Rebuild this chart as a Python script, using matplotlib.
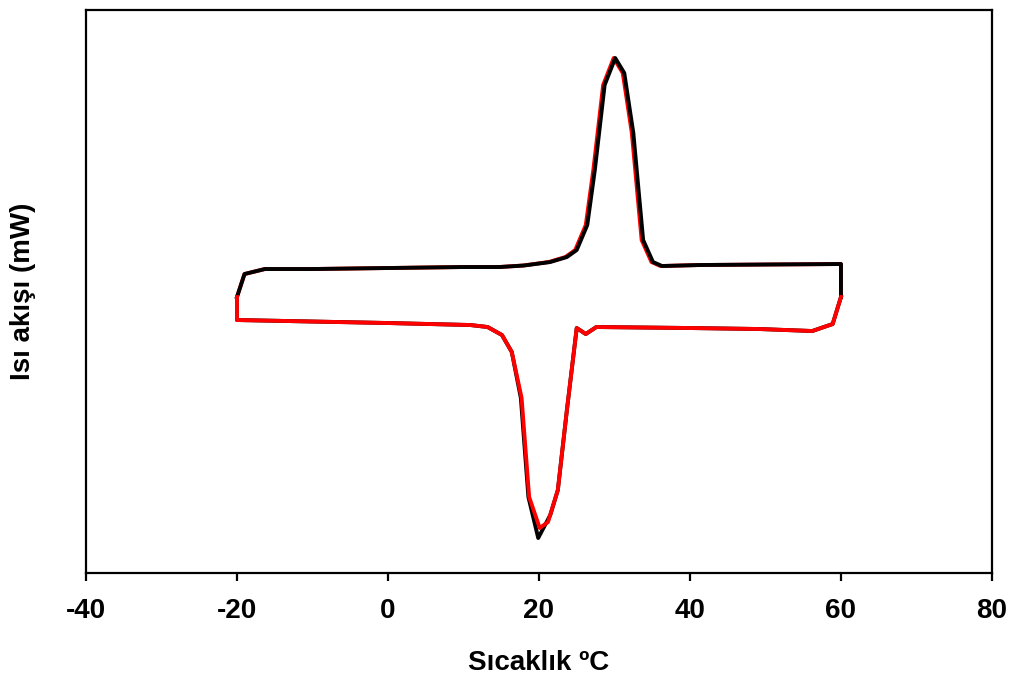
import matplotlib.pyplot as plt

# DSC eğrileri: ısıtma (üst) ve soğutma (alt) kolları, iki ölçüm
plt.rcParams['font.family'] = ['Liberation Sans', 'DejaVu Sans']
plt.rcParams['font.weight'] = 'bold'
plt.rcParams['axes.unicode_minus'] = False

# ısıtma kolu (sıcaklık, ısı akışı - keyfi birim)
heat_T = [-20.0, -19.0, -16.3, -10.0, 0.0, 10.0, 14.8, 18.0, 21.5, 23.7, 25.0, 26.4,
          27.4, 28.7, 30.1, 31.3, 32.5, 33.8, 35.1, 36.3, 41.3, 50.0, 60.0, 60.0]
heat_Q = [2.76, 2.99, 3.04, 3.04, 3.05, 3.06, 3.06, 3.075, 3.11, 3.16, 3.23, 3.48,
          4.03, 4.88, 5.15, 5.00, 4.40, 3.33, 3.11, 3.07, 3.08, 3.085, 3.09, 2.76]
heat_T_red = [-20.0, -19.0, -16.3, -10.0, 0.0, 10.0, 14.7, 17.9, 21.3, 23.5, 24.8, 26.2,
              27.2, 28.5, 29.9, 31.1, 32.3, 33.6, 34.9, 36.1, 41.3, 50.0, 60.0, 60.0]

# soğutma kolu
cool_T = [60.0, 58.9, 56.2, 49.2, 40.0, 27.6, 26.2, 25.0, 23.7, 22.5, 21.2, 20.1,
          18.7, 17.7, 16.4, 15.1, 13.2, 10.9, 0.0, -10.0, -20.0, -20.0]
cool_Q = [2.76, 2.49, 2.42, 2.44, 2.45, 2.46, 2.39, 2.45, 1.63, 0.83, 0.51, 0.45,
          0.76, 1.75, 2.21, 2.38, 2.46, 2.48, 2.50, 2.515, 2.53, 2.76]
cool_T_blk = [60.0, 58.9, 56.2, 49.2, 40.0, 27.6, 26.2, 25.0, 23.7, 22.5, 21.5, 19.9,
              18.6, 17.6, 16.4, 15.1, 13.2, 10.9, 0.0, -10.0, -20.0, -20.0]
cool_Q_blk = [2.76, 2.49, 2.42, 2.44, 2.45, 2.46, 2.39, 2.45, 1.63, 0.83, 0.58, 0.35,
              0.76, 1.75, 2.21, 2.38, 2.46, 2.48, 2.50, 2.515, 2.53, 2.76]

fig = plt.figure(figsize=(10.15, 6.82), dpi=100)
ax = fig.add_axes([0.0847, 0.1598, 0.8926, 0.8255])

ax.plot(heat_T_red, heat_Q, color='#ff0000', linewidth=2.8, zorder=2)
ax.plot(heat_T, heat_Q, color='black', linewidth=2.8, zorder=3)
ax.plot(cool_T_blk, cool_Q_blk, color='black', linewidth=2.8, zorder=2)
ax.plot(cool_T, cool_Q, color='#ff0000', linewidth=2.8, zorder=3)

ax.set_xlim(-40, 80)
ax.set_ylim(0, 5.63)
ax.set_xticks([-40, -20, 0, 20, 40, 60, 80])
ax.set_yticks([])
ax.tick_params(axis='x', direction='out', length=6, width=1.6, labelsize=20, pad=12)
for s in ax.spines.values():
    s.set_linewidth(1.6)

ax.set_xlabel('Sıcaklık ºC', fontsize=20, fontweight='bold', labelpad=19)
ax.set_ylabel('Isı akışı (mW)', fontsize=20, fontweight='bold', labelpad=36)

plt.savefig('out.png', dpi=100)
